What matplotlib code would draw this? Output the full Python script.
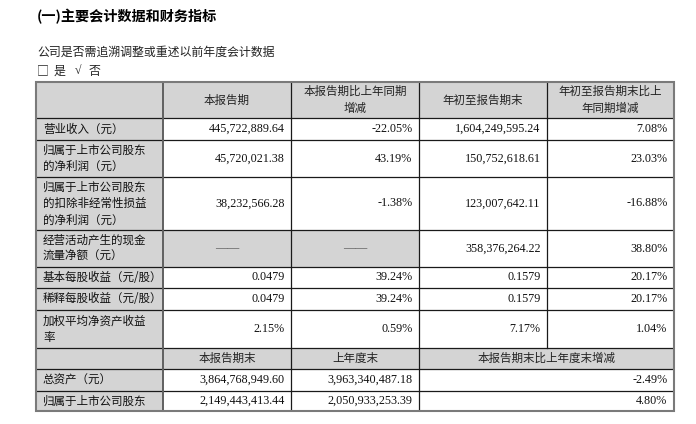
import matplotlib
matplotlib.use('Agg')
import matplotlib.pyplot as plt
from matplotlib.patches import Rectangle

# ── data ──────────────────────────────────────────────────────────────────────
title = '(一)主要会计数据和财务指标'
subtitle = '公司是否需追溯调整或重述以前年度会计数据'
choice = ['□', '是', '√', '否']

header1 = ['', '本报告期', '本报告期比上年同期\n增减', '年初至报告期末',
           '年初至报告期末比上\n年同期增减']
row_labels = ['营业收入（元）',
              '归属于上市公司股东\n的净利润（元）',
              '归属于上市公司股东\n的扣除非经常性损益\n的净利润（元）',
              '经营活动产生的现金\n流量净额（元）',
              '基本每股收益（元/股）',
              '稀释每股收益（元/股）',
              '加权平均净资产收益\n率']
current     = ['445,722,889.64', '45,720,021.38', '38,232,566.28', '——',
               '0.0479', '0.0479', '2.15%']
current_yoy = ['-22.05%', '43.19%', '-1.38%', '——', '39.24%', '39.24%', '0.59%']
ytd         = ['1,604,249,595.24', '150,752,618.61', '123,007,642.11',
               '358,376,264.22', '0.1579', '0.1579', '7.17%']
ytd_yoy     = ['7.08%', '23.03%', '-16.88%', '38.80%', '20.17%', '20.17%', '1.04%']

header2   = ['', '本报告期末', '上年度末', '本报告期末比上年度末增减']
bs_labels = ['总资产（元）', '归属于上市公司股东']
bs_end    = ['3,864,768,949.60', '2,149,443,413.44']
bs_prev   = ['3,963,340,487.18', '2,050,933,253.39']
bs_chg    = ['-2.49%', '4.80%']

# ── layout (pixels) ───────────────────────────────────────────────────────────
XS = [36, 163, 291, 419, 547, 674]
YS = [82, 118, 140, 177, 230, 267, 288, 310, 348, 369, 391, 411]
GRAY = '#d4d4d4'
CJK = ['Noto Sans CJK SC', 'DejaVu Sans']
NUM = ['Liberation Serif', 'Noto Sans CJK SC']
FS_CJK, FS_NUM = 8.3, 8.7
LSTEP = 16.5
PAD = 6.5

fig = plt.figure(figsize=(6.96, 4.24), dpi=100)
ax = fig.add_axes([0, 0, 1, 1])
ax.set_xlim(0, 696); ax.set_ylim(424, 0); ax.axis('off')


def lines_text(x, yc, s, ha, family, fs, color='#111111', weight='normal'):
    parts = s.split('\n')
    y0 = yc - LSTEP * (len(parts) - 1) / 2
    for k, p in enumerate(parts):
        ax.text(x, y0 + k * LSTEP, p, ha=ha, va='center', family=family,
                fontsize=fs, color=color, weight=weight)


def fill(x0, x1, y0, y1):
    ax.add_patch(Rectangle((x0, y0), x1 - x0, y1 - y0, color=GRAY, lw=0, zorder=0))


# titles
ax.text(37, 17, title, ha='left', va='center', family=CJK, fontsize=10.2,
        weight='bold', color='#000000')
ax.text(37, 52, subtitle, ha='left', va='center', family=CJK, fontsize=8.6,
        color='#222222')
for x, c, fam in zip([37, 54, 75, 89], choice, [CJK, CJK, NUM, CJK]):
    ax.text(x, 71, c, ha='left', va='center', family=fam, fontsize=8.6,
            color='#222222')

# fills
fill(XS[0], XS[-1], YS[0], YS[1])
fill(XS[0], XS[1], YS[0], YS[-1])
fill(XS[1], XS[3], YS[4], YS[5])
fill(XS[0], XS[-1], YS[8], YS[9])

# grid lines
for y in YS[1:-1]:
    ax.plot([XS[0], XS[-1]], [y, y], color='#1a1a1a', lw=0.9, solid_capstyle='butt')
for x in XS[2:4]:
    ax.plot([x, x], [YS[0], YS[-1]], color='#1a1a1a', lw=0.9, solid_capstyle='butt')
ax.plot([XS[4], XS[4]], [YS[0], YS[8]], color='#1a1a1a', lw=0.9)
ax.plot([XS[1], XS[1]], [YS[0], YS[-1]], color='#606060', lw=1.4)
ax.add_patch(Rectangle((XS[0], YS[0]), XS[-1] - XS[0], YS[-1] - YS[0],
                       fill=False, ec='#7a7a7a', lw=1.5, zorder=3))


def cx(i):
    return (XS[i] + XS[i + 1]) / 2


def yc(r):
    return (YS[r] + YS[r + 1]) / 2


# header 1
for i, h in enumerate(header1):
    if h:
        lines_text(cx(i), yc(0), h, 'center', CJK, FS_CJK, '#222222')

# main rows
for r, lab in enumerate(row_labels):
    y = yc(r + 1)
    lines_text(XS[0] + 7, y, lab, 'left', CJK, FS_CJK)
    for i, v in enumerate([current[r], current_yoy[r], ytd[r], ytd_yoy[r]], start=1):
        if v == '——':
            ax.text(cx(i), y, v, ha='center', va='center', family=NUM,
                    fontsize=FS_NUM, color='#555555')
        else:
            ax.text(XS[i + 1] - PAD, y, v, ha='right', va='center', family=NUM,
                    fontsize=FS_NUM, color='#111111')

# header 2
h2_x = [None, cx(1), cx(2), (XS[3] + XS[5]) / 2]
for h, x in zip(header2, h2_x):
    if h:
        ax.text(x, yc(8), h, ha='center', va='center', family=CJK,
                fontsize=FS_CJK, color='#222222')

# balance-sheet rows
for r, lab in enumerate(bs_labels):
    y = yc(9 + r)
    ax.text(XS[0] + 7, y, lab, ha='left', va='center', family=CJK,
            fontsize=FS_CJK, color='#111111')
    for xr, v in zip([XS[2], XS[3], XS[5]], [bs_end[r], bs_prev[r], bs_chg[r]]):
        ax.text(xr - PAD, y, v, ha='right', va='center', family=NUM,
                fontsize=FS_NUM, color='#111111')

fig.savefig('out.png', dpi=100, facecolor='white')
